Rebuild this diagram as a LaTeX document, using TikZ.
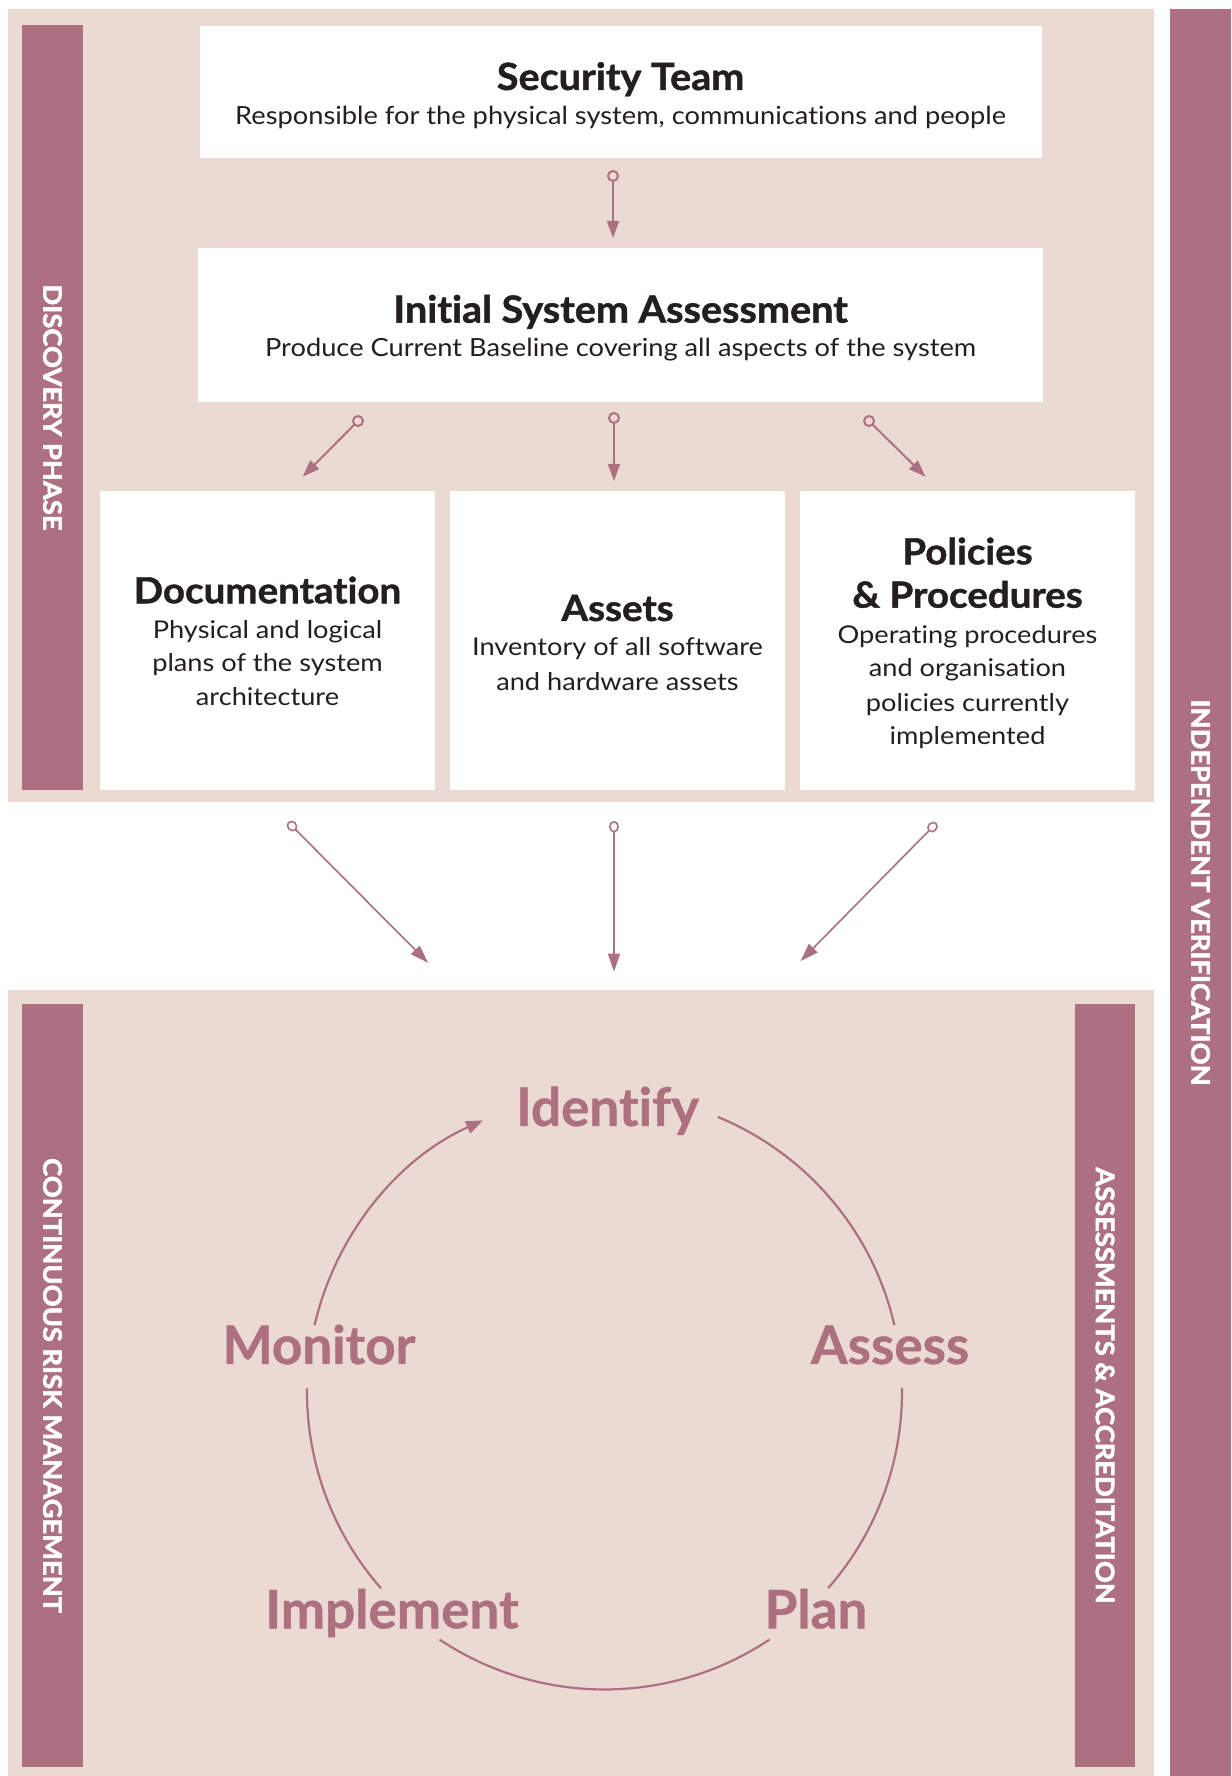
\documentclass[tikz,border=0pt]{standalone}
\usepackage{fontspec}
\setmainfont{Lato}[Ligatures=NoCommon]
\newfontfamily\heavyttl{Lato}[Ligatures=NoCommon,FakeStretch=1.055,BoldFeatures={FakeBold=1.2}]
\newfontfamily\heavybox{Lato}[Ligatures=NoCommon,FakeStretch=1.07,BoldFeatures={FakeBold=1.2}]
\newfontfamily\subfam{Lato}[Ligatures=NoCommon,FakeStretch=1.09]
\newfontfamily\bodyfam{Lato}[Ligatures=NoCommon,FakeStretch=1.11]
\newfontfamily\cycfam{Lato}[Ligatures=NoCommon,BoldFeatures={FakeBold=0.8}]
\newfontfamily\vertfam{Lato}[Ligatures=NoCommon,FakeStretch=1.07,BoldFeatures={FakeBold=2.2}]
\usetikzlibrary{arrows.meta}
\definecolor{barcol}{RGB}{173,112,128}
\definecolor{panelcol}{RGB}{234,218,211}
\definecolor{inkcol}{RGB}{35,31,32}
\newcommand{\fMainTitle}{\heavyttl\fontsize{37.5bp}{45bp}\selectfont\bfseries}
\newcommand{\fSubTitle}{\subfam\fontsize{25bp}{30bp}\selectfont}
\newcommand{\fBoxTitle}{\heavybox\fontsize{36bp}{43bp}\selectfont\bfseries}
\newcommand{\fBody}{\bodyfam\fontsize{24.5bp}{30bp}\selectfont}
\newcommand{\fCycle}{\cycfam\fontsize{53bp}{60bp}\selectfont\bfseries}
\newcommand{\fVert}{\vertfam\fontsize{25.5bp}{30bp}\selectfont\bfseries}
\begin{document}
\begin{tikzpicture}[x=1bp,y=1bp,
  panel/.style={fill=panelcol,draw=none},
  bar/.style={fill=barcol,draw=none,inner sep=0,outer sep=0,rotate=-90,text=white,font=\fVert},
  wbox/.style={fill=white,draw=none,inner sep=0,outer sep=0},
  ttl/.style={inner sep=0,anchor=base,text=inkcol,font=\fMainTitle},
  sub/.style={inner sep=0,anchor=base,text=inkcol,font=\fSubTitle},
  btl/.style={inner sep=0,anchor=base,text=inkcol,font=\fBoxTitle},
  body/.style={inner sep=0,anchor=base,text=inkcol,font=\fBody},
  cyclab/.style={inner sep=0,anchor=base,text=barcol,font=\fCycle},
  conn/.style={draw=barcol,line width=2bp,
    {Circle[open,length=12bp,width=12bp]}-{Triangle[length=17bp,width=12bp]}},
  connlow/.style={draw=barcol,line width=1.6bp,
    {Circle[open,length=11.5bp,width=10bp]}-{Triangle[length=18bp,width=12bp]}},
  cyc/.style={draw=barcol,line width=2.2bp},
  cycarrow/.style={draw=barcol,line width=2.2bp,-{Triangle[length=17bp,width=13bp]}}
]
\useasboundingbox (0,0) rectangle (1231,1776);
\fill[white] (0,0) rectangle (1231,1776);

% panels
\path[panel] (8,974) rectangle (1154,1767);
\path[panel] (8,0) rectangle (1154,786);

% vertical bars with labels
\node[bar,minimum width=765bp,minimum height=61bp] (discbar) at (52.5,1368.5) {DISCOVERY PHASE};
\node[bar,minimum width=763bp,minimum height=61bp] (contbar) at (52.5,390.5) {CONTINUOUS RISK MANAGEMENT};
\node[bar,minimum width=763bp,minimum height=60bp] (accbar) at (1105,390.5) {ASSESSMENTS \& ACCREDITATION};
\node[bar,minimum width=1767bp,minimum height=61bp] (indbar) at (1200.5,883.5) {INDEPENDENT VERIFICATION};

% white boxes
\node[wbox,minimum width=842bp,minimum height=132.5bp] (sec) at (621,1683.75) {};
\node[wbox,minimum width=845bp,minimum height=154bp] (isa) at (620.5,1451) {};
\node[wbox,minimum width=335bp,minimum height=299bp] (doc) at (267.5,1135.5) {};
\node[wbox,minimum width=335bp,minimum height=299bp] (ast) at (617.5,1135.5) {};
\node[wbox,minimum width=335bp,minimum height=299bp] (pol) at (967.5,1135.5) {};

% texts
\node[ttl] (secT) at (620.6,1686) {Security Team};
\node[sub] (secS) at (620.6,1651) {Responsible for the physical system, communications and people};
\node[ttl] (isaT) at (620.6,1453.3) {Initial System Assessment};
\node[sub] (isaS) at (620.6,1419) {Produce Current Baseline covering all aspects of the system};

\node[btl] (docT) at (267.5,1172.7) {Documentation};
\node[body] (docB1) at (267.5,1137.7) {Physical and logical};
\node[body] (docB2) at (267.5,1104.3) {plans of the system};
\node[body] (docB3) at (267.5,1070.3) {architecture};

\node[btl] (astT) at (617.5,1155) {Assets};
\node[body] (astB1) at (617.5,1120.7) {Inventory of all software};
\node[body] (astB2) at (617.5,1085.6) {and hardware assets};

\node[btl] (polT1) at (967.5,1211.7) {Policies};
\node[btl] (polT2) at (967.5,1168.3) {\& Procedures};
\node[body] (polB1) at (967.5,1132.7) {Operating procedures};
\node[body] (polB2) at (967.5,1099.3) {and organisation};
\node[body] (polB3) at (967.5,1064.3) {policies currently};
\node[body] (polB4) at (967.5,1031) {implemented};

% connector end points
\coordinate (a0s) at (613,1606);   \coordinate (a0e) at (613,1538);
\coordinate (a1s) at (362.2,1359.2); \coordinate (a1e) at (302.7,1299.3);
\coordinate (a2s) at (614,1364);   \coordinate (a2e) at (614,1295);
\coordinate (a3s) at (864.8,1359.2); \coordinate (a3e) at (925.5,1299.3);
\coordinate (b1s) at (288,954); \coordinate (b1e) at (428,813.3);
\coordinate (b2s) at (614,955);   \coordinate (b2e) at (614,804.3);
\coordinate (b3s) at (936.5,953);   \coordinate (b3e) at (800.6,815);

\draw[conn] (a0s) -- (a0e);
\draw[conn] (a1s) -- (a1e);
\draw[conn] (a2s) -- (a2e);
\draw[conn] (a3s) -- (a3e);
\draw[connlow] (b1s) -- (b1e);
\draw[connlow] (b2s) -- (b2e);
\draw[connlow] (b3s) -- (b3e);

% cycle
\coordinate (cc) at (604.5,384);
\node[cyclab] (idf) at (607.5,650) {Identify};
\node[cyclab] (asm) at (890,412) {Assess};
\node[cyclab] (pln) at (816,147.7) {Plan};
\node[cyclab] (imp) at (392,147.7) {Implement};
\node[cyclab] (mon) at (319,412) {Monitor};

\draw[cyc] ([shift={(67.6:297.5)}]cc) arc[start angle=67.6,end angle=13,radius=297.5];
\draw[cyc] ([shift={(0.8:297.5)}]cc) arc[start angle=0.8,end angle=-41.25,radius=297.5];
\draw[cyc] ([shift={(-56.3:297.5)}]cc) arc[start angle=-56.3,end angle=-123.7,radius=297.5];
\draw[cyc] ([shift={(-138.7:297.5)}]cc) arc[start angle=-138.7,end angle=-180.7,radius=297.5];
\draw[cycarrow] ([shift={(167:297.5)}]cc) arc[start angle=167,end angle=114.1,radius=297.5];
\end{tikzpicture}
\end{document}
